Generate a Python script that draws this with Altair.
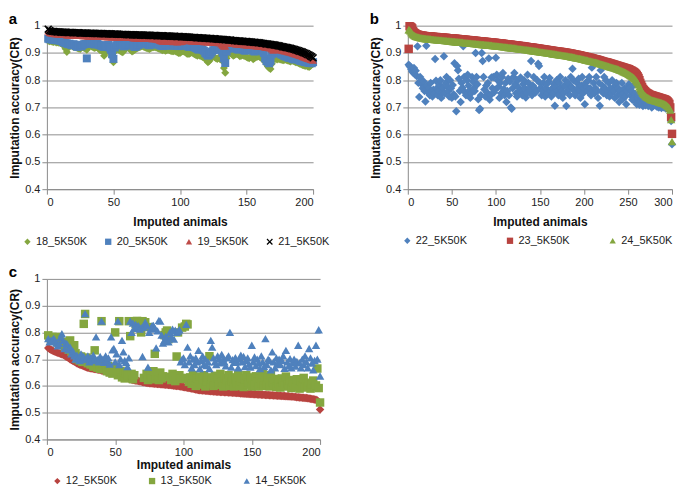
import altair as alt
import pandas as pd

# ---------------- Panel a (200 imputed animals) ----------------
a_animals = list(range(1, 201))
a_order = ["18_5K50K", "20_5K50K", "19_5K50K", "21_5K50K"]
a_colors = ["#84A63F", "#4F81BD", "#BE4B48", "#000000"]

# values in per-mille (accuracy * 1000)
a_18 = [945,943,944,941,940,942,938,939,937,936,
        935,930,925,915,903,918,926,928,925,922,
        924,920,918,916,914,920,922,918,916,912,
        926,928,925,923,920,918,922,920,915,910,
        912,905,890,900,910,915,908,900,885,866,
        905,915,918,912,908,904,902,910,915,918,
        920,916,912,905,908,912,915,918,920,922,
        924,925,922,920,918,916,914,917,920,921,
        922,920,918,916,914,912,910,912,908,910,
        912,910,908,906,906,908,905,902,900,900,
        904,906,905,902,898,896,897,900,902,898,
        895,892,890,893,890,888,885,884,880,872,
        866,870,878,885,888,884,880,878,882,878,
        875,870,845,827,880,895,905,900,895,890,
        892,895,897,893,888,890,892,890,888,885,
        882,880,885,887,877,880,884,886,888,885,
        882,878,872,868,858,850,845,841,860,875,
        880,878,876,879,877,875,874,873,876,874,
        872,870,868,872,870,868,866,865,863,860,
        858,856,855,852,854,850,848,852,858,860]
a_20 = [952,950,951,949,948,950,947,946,948,945,
        944,940,938,936,935,932,934,930,928,932,
        930,925,922,926,928,924,930,932,933,880,
        934,936,935,937,933,931,936,935,930,928,
        926,924,922,925,928,930,920,912,895,878,
        920,928,932,935,934,930,928,924,926,930,
        932,934,933,931,926,922,924,928,930,932,
        934,935,936,935,934,930,928,931,933,932,
        934,935,933,930,928,926,925,927,930,932,
        931,928,926,929,931,930,928,926,925,928,
        930,929,931,928,926,924,922,925,927,924,
        920,918,915,912,916,918,912,908,900,895,
        890,893,898,905,910,912,915,918,920,916,
        910,900,880,863,905,915,920,922,924,921,
        918,916,914,912,915,917,914,910,908,912,
        914,916,915,912,908,905,910,912,914,912,
        910,906,900,880,870,868,862,870,895,905,
        908,906,904,900,898,895,893,890,888,886,
        884,882,884,880,878,876,879,877,875,872,
        870,872,868,866,868,865,863,865,862,866]
a_19 = [980,975,973,972,971,970,970,969,969,968,
        968,967,967,967,966,966,966,966,965,965,
        965,965,964,964,964,964,963,963,963,963,
        962,962,962,962,962,961,961,961,961,960,
        960,960,960,959,959,959,959,959,958,958,
        958,958,958,957,957,957,957,957,956,956,
        956,956,956,956,955,955,955,955,955,954,
        954,954,954,954,953,953,953,953,952,952,
        952,951,950,948,945,944,943,944,946,942,
        944,943,945,942,941,944,943,940,942,941,
        942,943,946,946,946,945,945,944,944,944,
        944,943,943,943,942,942,942,941,941,941,
        940,940,940,939,939,939,938,938,937,937,
        933,928,924,925,935,936,936,935,935,934,
        934,933,933,932,932,931,931,930,930,929,
        929,928,928,927,927,926,926,925,925,924,
        923,923,922,921,921,920,919,918,914,910,
        916,914,913,912,911,910,909,908,907,906,
        904,903,902,900,899,897,896,894,892,890,
        889,887,885,883,881,879,878,876,875,873]
a_21 = [987,982,980,979,979,978,978,977,977,977,
        976,976,976,976,975,975,975,975,975,974,
        974,974,974,974,973,973,973,973,973,972,
        972,972,972,972,972,971,971,971,971,971,
        971,970,970,970,970,970,970,969,969,969,
        969,969,969,968,968,968,968,968,968,967,
        967,967,967,967,967,966,966,966,966,966,
        966,965,965,965,965,965,965,964,964,964,
        964,964,963,963,963,963,963,962,962,962,
        962,962,961,961,961,961,960,960,960,960,
        959,959,959,959,958,958,958,957,957,957,
        957,956,956,956,955,955,955,954,954,954,
        953,953,953,952,952,952,951,951,950,950,
        950,949,949,948,948,947,947,947,946,946,
        945,945,944,944,944,943,943,942,942,942,
        941,941,940,940,939,939,938,938,937,937,
        936,935,935,934,933,933,932,931,930,930,
        929,928,927,926,925,924,923,922,921,920,
        919,918,917,915,914,913,911,910,908,906,
        905,903,901,899,897,894,892,889,886,882]

# ---------------- Panel b (300 imputed animals) ----------------
b_animals = list(range(1, 301))
b_order = ["22_5K50K", "23_5K50K", "24_5K50K"]
b_colors = ["#4F81BD", "#B8433F", "#84A63F"]

b_22 = [857,852,848,840,832,828,845,822,835,815,
        924,790,738,812,800,785,770,795,760,722,
        926,780,755,770,745,790,760,740,765,750,
        878,798,770,745,760,782,800,735,755,772,
        888,752,790,812,776,760,740,800,770,735,
        782,748,862,740,686,852,836,805,760,720,
        790,772,924,812,756,745,800,820,780,762,
        735,752,812,795,770,760,900,812,785,730,
        690,695,745,900,870,812,766,740,780,755,
        790,880,728,745,810,770,812,756,765,882,
        820,800,776,735,790,752,812,826,768,745,
        790,720,760,805,745,795,700,695,770,812,
        826,785,752,740,800,772,760,810,756,745,
        786,800,770,736,752,820,790,770,760,870,
        745,780,812,770,755,760,800,860,852,790,
        772,745,760,790,812,740,770,786,752,795,
        808,760,740,770,752,786,706,775,800,760,
        745,790,812,770,760,735,752,780,800,705,
        760,790,770,745,812,775,842,800,760,745,
        752,790,770,805,760,735,780,812,752,770,
        712,790,775,760,800,812,770,745,846,760,
        790,752,770,812,760,735,790,706,836,760,
        780,752,812,770,800,745,760,790,740,770,
        752,800,770,760,735,782,790,745,770,720,
        760,745,790,730,752,770,740,712,760,775,
        785,770,745,760,728,780,735,750,720,712,
        735,745,710,722,740,715,705,725,712,708,
        720,712,705,716,710,708,700,712,706,715,
        710,706,702,712,700,708,704,698,710,702,
        700,706,696,702,698,694,690,685,650,565]
b_23 = [915,998,996,994,990,980,975,972,970,968,
        967,966,965,964,964,963,963,962,962,961,
        961,961,960,960,960,960,959,959,959,958,
        958,958,958,957,957,957,956,956,956,956,
        955,955,955,955,954,954,954,953,953,953,
        953,952,952,952,951,951,951,950,950,950,
        949,949,949,948,948,948,947,947,947,946,
        946,946,945,945,945,944,944,944,943,943,
        943,942,942,942,941,941,941,940,940,940,
        939,939,939,938,938,938,937,937,937,936,
        936,935,935,935,934,934,934,933,933,932,
        932,932,931,931,930,930,930,929,929,928,
        928,928,927,927,926,926,925,925,925,924,
        924,923,923,922,922,921,921,920,920,920,
        919,919,918,918,917,917,916,916,915,915,
        914,914,913,913,912,912,911,911,910,910,
        909,909,908,908,907,907,906,906,905,905,
        904,904,904,903,903,902,902,901,901,900,
        900,899,898,898,897,897,896,895,895,894,
        893,893,892,891,891,890,889,888,888,887,
        886,885,885,884,883,882,882,881,880,879,
        878,877,877,876,875,874,873,872,871,870,
        869,868,867,866,866,865,864,863,862,861,
        860,859,858,857,856,855,854,853,852,851,
        850,849,848,847,846,845,844,843,842,841,
        840,838,836,835,833,831,829,826,823,819,
        814,808,800,790,782,775,768,764,760,757,
        754,752,750,748,746,745,744,743,742,741,
        740,739,738,737,736,735,734,733,732,731,
        730,729,727,725,722,718,713,700,665,603]
b_24 = [985,984,980,975,970,967,965,963,961,960,
        959,958,957,956,955,955,954,954,953,953,
        952,952,952,951,951,951,950,950,950,949,
        949,949,948,948,948,947,947,947,946,946,
        946,945,945,945,944,944,944,943,943,943,
        942,942,942,941,941,941,940,940,940,939,
        939,939,938,938,938,937,937,937,936,936,
        936,935,935,935,934,934,934,933,933,933,
        932,932,932,931,931,931,930,930,930,929,
        929,929,928,928,928,927,927,927,926,926,
        926,925,925,924,924,924,923,923,922,922,
        922,921,921,920,920,920,919,919,918,918,
        918,917,917,916,916,915,915,915,914,914,
        913,913,912,912,912,911,911,910,910,909,
        909,908,908,907,907,906,906,905,905,904,
        904,903,903,902,902,901,901,900,900,899,
        899,898,898,897,897,896,896,895,895,894,
        894,893,893,892,892,891,891,890,890,889,
        889,888,887,887,886,886,885,884,884,883,
        882,882,881,880,880,879,878,877,877,876,
        875,874,874,873,872,871,871,870,869,868,
        867,866,866,865,864,863,862,861,860,859,
        858,857,856,855,854,853,852,851,850,849,
        848,847,846,845,844,843,842,841,840,838,
        837,836,834,833,831,830,828,827,825,823,
        821,819,817,815,813,810,807,804,800,795,
        790,783,775,768,762,757,752,748,745,742,
        739,737,735,733,731,729,728,727,726,725,
        724,723,722,721,720,719,718,717,716,715,
        714,712,710,708,705,702,698,690,655,575]

# ---------------- Panel c (200 imputed animals) ----------------
c_animals = list(range(1, 201))
c_order = ["12_5K50K", "13_5K50K", "14_5K50K"]
c_colors = ["#B8433F", "#84A63F", "#4F81BD"]

c_12 = [742,738,735,732,730,728,726,724,722,720,
        718,716,714,710,707,704,700,697,694,691,
        688,685,682,680,678,676,674,672,670,668,
        667,666,665,664,663,662,661,660,659,658,
        657,656,655,654,653,652,651,650,649,648,
        647,645,642,640,638,636,634,632,630,628,
        626,624,622,621,620,619,618,617,616,615,
        614,613,612,611,610,610,609,609,608,608,
        607,607,606,606,605,605,604,604,603,603,
        602,602,601,601,600,600,599,598,597,596,
        595,594,593,592,591,590,589,588,587,586,
        585,584,584,583,583,582,582,581,581,580,
        580,579,579,578,578,578,577,577,577,576,
        576,576,575,575,575,574,574,574,573,573,
        573,572,572,572,571,571,571,570,570,570,
        569,569,569,568,568,568,567,567,567,566,
        566,566,565,565,565,564,564,564,563,563,
        563,562,562,562,561,561,561,560,560,560,
        559,559,558,558,557,557,556,556,555,555,
        554,553,552,551,550,549,548,546,540,512]
c_13 = [789,780,776,783,770,775,783,762,768,758,
        755,765,748,750,742,735,770,728,725,752,
        722,700,712,695,710,690,832,869,706,685,
        698,680,695,672,733,690,668,686,664,842,
        684,662,676,655,674,650,668,646,664,800,
        660,640,842,656,632,650,628,646,640,842,
        786,645,625,640,830,843,838,835,800,842,
        630,838,645,622,820,640,628,655,720,625,
        640,622,650,628,636,790,800,807,775,634,
        622,645,635,618,710,800,640,626,818,630,
        822,832,830,615,632,608,640,622,600,628,
        612,635,605,625,640,598,618,632,711,606,
        625,600,638,612,628,604,645,615,598,630,
        608,622,640,600,616,632,598,625,610,642,
        600,618,630,596,626,640,605,612,632,598,
        622,604,636,615,598,628,610,645,600,620,
        606,632,598,640,615,602,626,596,620,610,
        594,628,612,600,635,605,598,622,592,615,
        604,596,625,610,590,618,600,630,594,608,
        598,612,590,605,620,596,602,665,592,538]
c_14 = [777,765,770,772,778,768,760,750,758,782,
        795,770,740,760,755,735,745,720,730,712,
        700,715,705,695,720,698,710,870,700,712,
        690,705,695,715,700,783,698,690,710,842,
        700,688,712,695,705,682,783,735,740,690,
        720,842,680,700,770,727,695,688,672,705,
        842,800,835,815,830,822,825,812,818,710,
        820,838,826,670,800,812,825,826,815,742,
        806,845,842,790,760,770,785,780,765,800,
        783,812,775,808,800,805,810,690,700,705,
        680,830,745,690,712,668,700,680,705,690,
        733,665,695,712,680,700,676,690,665,770,
        745,705,690,680,712,700,686,718,702,690,
        675,705,712,800,670,698,688,706,690,668,
        700,715,690,710,672,695,705,682,670,752,
        690,708,676,700,685,665,712,690,672,777,
        680,700,695,660,727,690,668,705,684,700,
        680,696,712,666,733,690,675,702,668,688,
        700,674,692,752,686,668,700,680,712,690,
        668,740,705,685,660,695,752,700,810,637]

y_ticks = [0.4, 0.5, 0.6, 0.7, 0.8, 0.9, 1.0]
X_SHAPE = ("M-1,-0.72L-0.72,-1L0,-0.28L0.72,-1L1,-0.72L0.28,0L1,0.72L0.72,1"
           "L0,0.28L-0.72,1L-1,0.72L-0.28,0Z")
FONT = "Liberation Sans"


def long_frame(animals, order, series):
    rows = []
    for name, vals in zip(order, series):
        for xi, v in zip(animals, vals):
            rows.append({"animal": xi, "acc": v / 1000.0, "series": name})
    return pd.DataFrame(rows)


def panel(df, label, order, colors, shapes, xmax, w, h, size,
          lx, ly, colpad, xtitle_pad):
    legend = alt.Legend(title=None, orient="none", direction="horizontal",
                        legendX=lx, legendY=ly, columnPadding=colpad,
                        symbolSize=40, symbolStrokeWidth=0, labelFontSize=11,
                        labelFont=FONT, labelColor="#222222", labelOffset=3,
                        padding=0)
    return alt.Chart(
        df,
        title=alt.TitleParams(label, anchor="start", frame="bounds",
                              fontSize=15, fontWeight="bold", font=FONT,
                              color="black", offset=-7),
    ).mark_point(filled=True, size=size, opacity=1, strokeWidth=0).encode(
        x=alt.X("animal:Q",
                scale=alt.Scale(domain=[0, xmax], nice=False, zero=False),
                axis=alt.Axis(values=list(range(0, xmax + 1, 50)),
                              title="Imputed animals", grid=False,
                              titlePadding=xtitle_pad)),
        y=alt.Y("acc:Q",
                scale=alt.Scale(domain=[0.4, 1.0], nice=False, zero=False),
                axis=alt.Axis(values=y_ticks, format=".1~f",
                              title="Imputation accuracy(CR)", grid=True)),
        color=alt.Color("series:N", scale=alt.Scale(domain=order, range=colors),
                        legend=legend),
        shape=alt.Shape("series:N", scale=alt.Scale(domain=order, range=shapes),
                        legend=legend),
    ).properties(width=w, height=h)


df_a = long_frame(a_animals, a_order, [a_18, a_20, a_19, a_21])
df_b = long_frame(b_animals, b_order, [b_22, b_23, b_24])
df_c = long_frame(c_animals, c_order, [c_12, c_13, c_14])

pa = panel(df_a, "a", a_order, a_colors,
           ["diamond", "square", "triangle-up", X_SHAPE],
           200, 267, 164, 64, -25, 211, 15, 9)
pb = panel(df_b, "b", b_order, b_colors,
           ["diamond", "square", "triangle-up"],
           300, 265, 164, 72, -6, 210, 37, 9)
pc = panel(df_c, "c", c_order, c_colors,
           ["diamond", "square", "triangle-up"],
           200, 274, 161, 72, 5, 197, 29, 2)

top = alt.hconcat(pa, pb, spacing=39).resolve_scale(
    color="independent", shape="independent")
chart = alt.vconcat(top, pc, spacing=18).resolve_scale(
    color="independent", shape="independent"
).properties(
    padding={"top": 3, "left": 0, "right": 0, "bottom": 0}
).configure(
    font=FONT, background="white"
).configure_view(stroke=None).configure_axis(
    labelFont=FONT, labelFontSize=11, labelColor="#222222",
    titleFont=FONT, titleFontSize=12, titleFontWeight="bold",
    titleColor="#111111",
    domainColor="#8a8a8a", tickColor="#8a8a8a", gridColor="#8f8f8f",
    tickSize=5, labelPadding=2,
).configure_axisY(titlePadding=3)

chart.save("out.html", embed_options={"renderer": "svg", "actions": False})
